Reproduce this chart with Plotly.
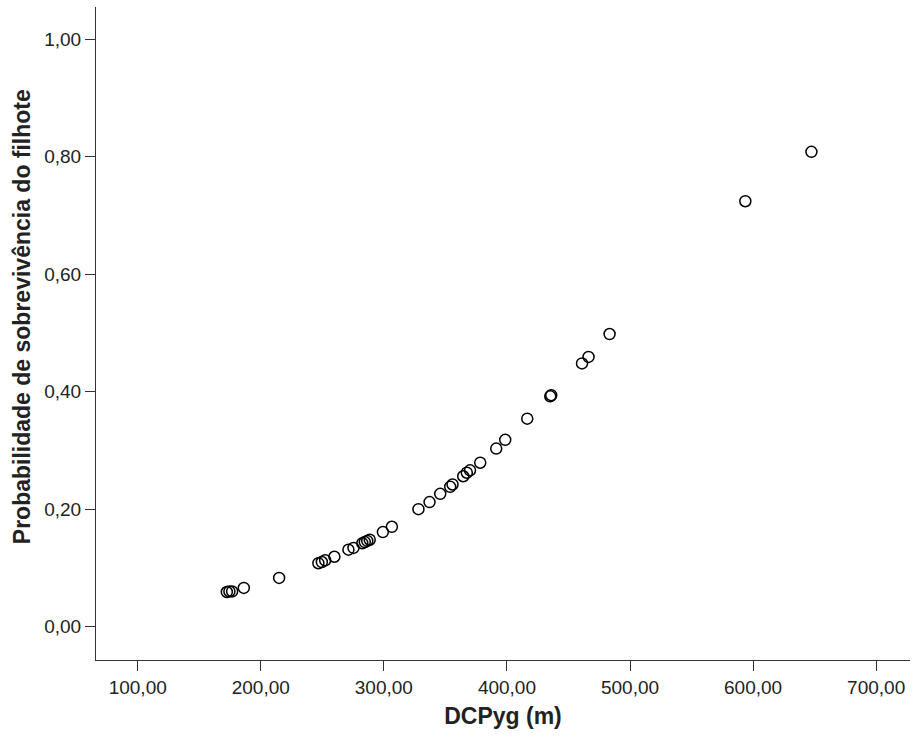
import plotly.graph_objects as go

# Distance (DCPyg, m) and predicted pup survival probability
dcpyg = [172.4, 174.5, 176.7, 186.2, 214.9, 246.8, 249.6, 252.3, 259.8, 271.2,
         275.3, 282.5, 284.5, 286.5, 288.5, 299.2, 306.5, 328.1, 337.1, 345.8,
         353.9, 355.8, 364.5, 367.4, 370.0, 378.3, 391.3, 398.6, 416.5, 435.2,
         436.0, 461.0, 466.3, 483.4, 593.7, 647.4]
prob = [0.059, 0.060, 0.060, 0.066, 0.083, 0.108, 0.110, 0.113, 0.119, 0.131,
        0.134, 0.142, 0.144, 0.146, 0.148, 0.161, 0.170, 0.200, 0.212, 0.226,
        0.238, 0.242, 0.256, 0.262, 0.266, 0.279, 0.303, 0.318, 0.354, 0.392,
        0.394, 0.448, 0.459, 0.498, 0.724, 0.808]

x_ticks = [100, 200, 300, 400, 500, 600, 700]
x_labels = ["100,00", "200,00", "300,00", "400,00", "500,00", "600,00", "700,00"]
y_ticks = [0.0, 0.2, 0.4, 0.6, 0.8, 1.0]
y_labels = ["0,00", "0,20", "0,40", "0,60", "0,80", "1,00"]

FONT = "Liberation Sans, Arial, sans-serif"
TEXT = "#222222"

fig = go.Figure(
    go.Scatter(
        x=dcpyg, y=prob, mode="markers",
        marker=dict(symbol="circle-open", size=11, color="black",
                    line=dict(color="black", width=1.5)),
        hoverinfo="x+y",
    )
)

axis_common = dict(
    showgrid=False, zeroline=False, showline=True, linecolor="#333333",
    linewidth=1, ticks="outside", ticklen=10, tickwidth=1, tickcolor="#333333",
    tickfont=dict(family=FONT, size=19, color=TEXT),
    mirror=False,
)

fig.update_xaxes(
    range=[66.1, 727.5], tickvals=x_ticks, ticktext=x_labels,
    title=dict(text="<b>DCPyg (m)</b>", font=dict(family=FONT, size=23, color=TEXT),
               standoff=11),
    **axis_common,
)
fig.update_yaxes(
    range=[-0.0567, 1.0545], tickvals=y_ticks, ticktext=y_labels,
    **axis_common,
)

# vertical axis title, placed slightly above the plot centre
fig.add_annotation(
    text="<b>Probabilidade de sobrevivência do filhote</b>",
    xref="paper", yref="paper", x=-0.0909, y=0.525,
    xanchor="center", yanchor="middle", textangle=-90, showarrow=False,
    font=dict(family=FONT, size=23, color=TEXT),
)

fig.update_layout(
    width=912, height=738,
    margin=dict(l=96, r=2, t=7, b=78, autoexpand=False),
    paper_bgcolor="white", plot_bgcolor="white",
    showlegend=False,
)

fig.write_html("out.html")
